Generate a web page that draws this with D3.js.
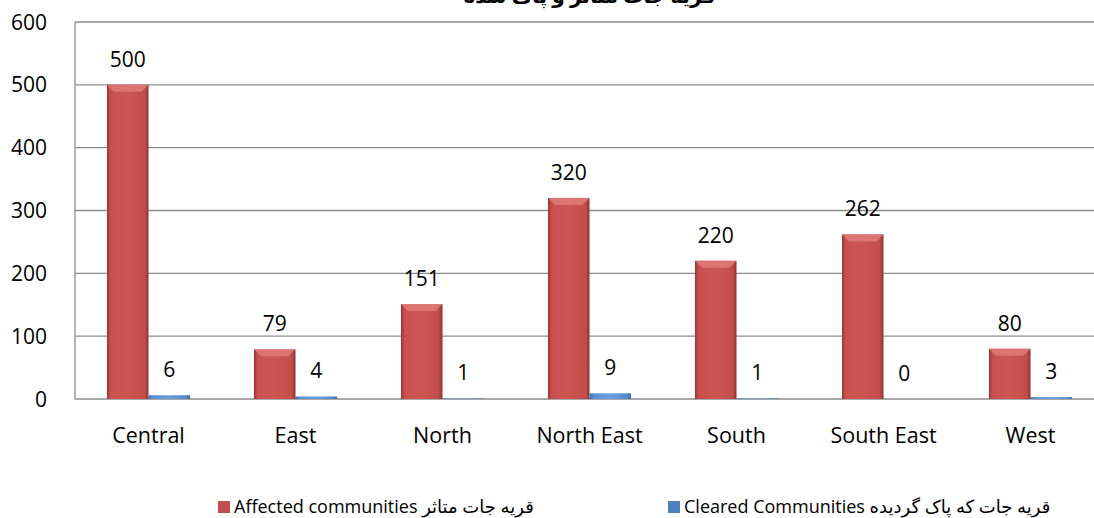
<!DOCTYPE html>
<html>
<head>
<meta charset="utf-8">
<script src="https://cdn.jsdelivr.net/npm/d3@7"></script>
<style>
    body { margin: 0; background: #ffffff; }
    svg { display: block; font-family: 'Open Sans', 'DejaVu Sans', sans-serif; }
</style>
</head>
<body>
<svg></svg>
<script>
let categories = ['Central', 'East', 'North', 'North East', 'South', 'South East', 'West']
let affected = [500, 79, 151, 320, 220, 262, 80]
let cleared = [6, 4, 1, 9, 1, 0, 3]
let yTicks = [0, 100, 200, 300, 400, 500, 600]

let seriesNames = ['Affected communities قریه جات متاثر', 'Cleared Communities قریه جات که پاک گردیده']
let title = 'قریه جات متاثر و پاک شده'

let width = 1094
let height = 518
let plotLeft = 75
let plotRight = 1104
let plotTop = 22
let plotBottom = 399

let svg = d3.select('svg')
let xScale, subScale, yScale

let drawCanvas = () => {
    svg.attr('width', width)
       .attr('height', height)

    let defs = svg.append('defs')
    let addGrad = (id, stops) => {
        let g = defs.append('linearGradient')
                    .attr('id', id)
                    .attr('x1', '0%').attr('x2', '100%')
                    .attr('y1', '0%').attr('y2', '0%')
        stops.forEach(s => {
            g.append('stop').attr('offset', s[0]).attr('stop-color', s[1])
        })
    }
    addGrad('redGrad', [['0%', '#983634'], ['9%', '#c9504e'], ['50%', '#cd5553'], ['91%', '#c24d4b'], ['100%', '#8a3230']])
    addGrad('blueGrad', [['0%', '#3f6ea8'], ['10%', '#5b8fd0'], ['50%', '#6a9ee0'], ['90%', '#5589c9'], ['100%', '#3d69a0']])
}

let generateScales = () => {
    xScale = d3.scaleBand()
               .domain(categories)
               .range([plotLeft, plotRight])
               .paddingInner(0.435)
               .paddingOuter(0.2175)
    subScale = d3.scaleBand()
                 .domain([0, 1])
                 .range([0, xScale.bandwidth()])
    yScale = d3.scaleLinear()
               .domain([0, 600])
               .range([plotBottom, plotTop])
}

let generateAxes = () => {
    svg.append('g')
       .selectAll('line')
       .data(yTicks)
       .enter()
       .append('line')
       .attr('x1', plotLeft)
       .attr('x2', width)
       .attr('y1', (d) => yScale(d))
       .attr('y2', (d) => yScale(d))
       .attr('stroke', '#8c8c8c')
       .attr('stroke-width', 1.3)

    svg.append('line')
       .attr('x1', plotLeft).attr('x2', plotLeft)
       .attr('y1', yScale(600)).attr('y2', yScale(0))
       .attr('stroke', '#8c8c8c')
       .attr('stroke-width', 1.3)

    svg.append('g')
       .selectAll('text')
       .data(yTicks)
       .enter()
       .append('text')
       .attr('x', 47)
       .attr('y', (d) => yScale(d) + 7.5)
       .attr('text-anchor', 'end')
       .attr('font-size', 21)
       .attr('fill', '#000')
       .text((d) => d)

    svg.append('g')
       .selectAll('text')
       .data(categories)
       .enter()
       .append('text')
       .attr('x', (d) => xScale(d) + xScale.bandwidth() / 2)
       .attr('y', 443)
       .attr('text-anchor', 'middle')
       .attr('font-size', 21.5)
       .attr('fill', '#000')
       .text((d) => d)
}

let drawBars = () => {
    let series = [
        {values: affected, fill: 'url(#redGrad)', edge: '#e3807e'},
        {values: cleared, fill: 'url(#blueGrad)', edge: '#8fb8ea'}
    ]

    series.forEach((s, i) => {
        let g = svg.append('g')
        let rows = categories.map((c, j) => ({cat: c, value: s.values[j]}))
        let bw = subScale.bandwidth()

        g.selectAll('rect')
         .data(rows)
         .enter()
         .append('rect')
         .attr('x', (d) => xScale(d.cat) + subScale(i))
         .attr('y', (d) => yScale(d.value))
         .attr('width', bw)
         .attr('height', (d) => yScale(0) - yScale(d.value))
         .attr('fill', s.fill)

        // bevelled top edge
        g.selectAll('path')
         .data(rows.filter(d => yScale(0) - yScale(d.value) > 8))
         .enter()
         .append('path')
         .attr('d', (d) => {
            let x0 = xScale(d.cat) + subScale(i)
            let y0 = yScale(d.value)
            return 'M' + x0 + ',' + y0 + 'L' + (x0 + bw) + ',' + y0 +
                   'L' + (x0 + bw - 7) + ',' + (y0 + 7) + 'L' + (x0 + 7) + ',' + (y0 + 7) + 'Z'
         })
         .attr('fill', s.edge)
         .attr('opacity', 0.75)

        g.selectAll('text')
         .data(rows)
         .enter()
         .append('text')
         .attr('x', (d) => xScale(d.cat) + subScale(i) + bw / 2)
         .attr('y', (d) => yScale(d.value) - 18)
         .attr('text-anchor', 'middle')
         .attr('font-size', 21)
         .attr('fill', '#000')
         .text((d) => d.value)
    })
}

let drawTitle = () => {
    svg.append('text')
       .attr('x', (plotLeft + plotRight) / 2)
       .attr('y', 3)
       .attr('text-anchor', 'middle')
       .attr('font-size', 20)
       .attr('font-weight', 'bold')
       .attr('fill', '#000')
       .text(title)
}

let drawLegend = () => {
    let colors = ['#c0504d', '#4f81bd']
    let xs = [218, 668]
    let items = svg.append('g')
                   .selectAll('g')
                   .data(seriesNames)
                   .enter()
                   .append('g')
                   .attr('transform', (d, i) => 'translate(' + xs[i] + ', 501)')
    items.append('rect')
         .attr('width', 12)
         .attr('height', 12)
         .attr('fill', (d, i) => colors[i])
    items.append('text')
         .attr('x', 16)
         .attr('y', 12)
         .attr('font-size', 18)
         .attr('fill', '#000')
         .text((d) => d)
}

drawCanvas()
generateScales()
generateAxes()
drawBars()
drawTitle()
drawLegend()
</script>
</body>
</html>
